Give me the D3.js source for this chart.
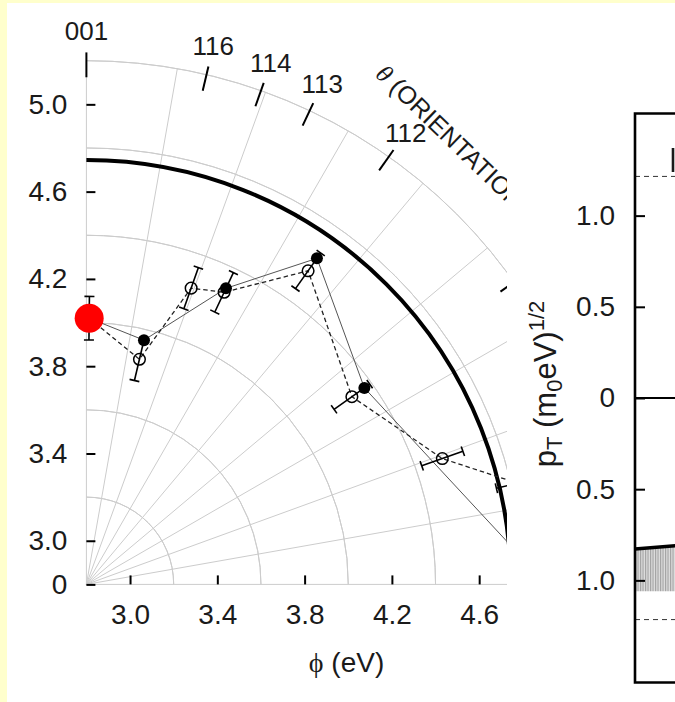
<!DOCTYPE html>
<html>
<head>
<meta charset="utf-8">
<script src="https://cdn.jsdelivr.net/npm/d3@7"></script>
<style>
  html, body { margin: 0; padding: 0; background: #fff; }
  svg { display: block; }
  text { font-family: "Liberation Sans", Arial, Helvetica, sans-serif; fill: #1a1a1a; }
</style>
</head>
<body>
<svg id="chart" width="675" height="702"></svg>
<script>
// ---- Work function φ against surface orientation θ (polar quadrant) ----
const orientationLabels = ["001", "116", "114", "113", "112", "111"];
const orientationAngles = [0, 13.26, 19.47, 25.24, 35.26, 54.74];   // degrees away from [001]

// filled markers, thin solid line
const filledAngles = [0.6, 13.26, 25.24, 35.26, 54.74, 90];
const filledPhi    = [4.02, 3.95, 4.30, 4.63, 4.36, 4.91];

// open markers with error bars, dashed line
const openAngles = [0.6, 13.26, 19.47, 25.24, 35.26, 54.74, 70.53, 76.8];
const openPhi    = [4.02, 3.86, 4.24, 4.28, 4.56, 4.29, 4.53, 4.83];
const openErr    = [0, 0.1, 0.1, 0.1, 0.1, 0.1, 0.1, 0.1];

// reference value on the [001] axis
const refAngle = 0.6, refPhi = 4.02, refErr = 0.1;
// heavy boundary arc
const boundaryPhi = 4.745;

const radialTicks = [2.8, 3.0, 3.4, 3.8, 4.2, 4.6, 5.0];
const phiTicks    = [3.0, 3.4, 3.8, 4.2, 4.6];
const gridCircles = [3.2, 3.6, 4.0, 4.4, 4.8, 5.2];
const gridAngles  = [0, 10, 20, 30, 40, 50, 60, 70, 80, 90];

// ---- Transverse momentum panel ----
const pTicks     = [1.0, 0.5, 0, -0.5, -1.0];
const pLimits    = [1.215, -1.215];
const bandX      = [0, 1];
const bandTop    = [-0.828, -0.81];
const bandBottom = [-1.06, -1.06];

const svg = d3.select("#chart");
const W = 675, H = 702;

// page background with the pale margin
svg.append("rect").attr("width", W).attr("height", H).attr("fill", "#ffffcc");
svg.append("rect").attr("x", 7).attr("y", 3).attr("width", W - 7).attr("height", H - 3).attr("fill", "#ffffff");

const defs = svg.append("defs");
defs.append("clipPath").attr("id", "polarClip")
  .append("rect").attr("x", 0).attr("y", 0).attr("width", 507).attr("height", H);

const hatch = defs.append("pattern").attr("id", "hatch")
  .attr("patternUnits", "userSpaceOnUse").attr("width", 2.5).attr("height", 6);
hatch.append("rect").attr("width", 2.5).attr("height", 6).attr("fill", "#dedede");
hatch.append("line").attr("x1", 0.6).attr("x2", 0.6).attr("y1", 0).attr("y2", 6)
  .attr("stroke", "#999").attr("stroke-width", 1);

// ---------------- polar quadrant ----------------
const ox = 86.4, oy = 584.4, R = 523.7;
const rScale = d3.scaleLinear().domain([2.8, 5.2]).range([0, R]);
const rad = d => d * Math.PI / 180;

const clipped = svg.append("g").attr("clip-path", "url(#polarClip)");
const polar = clipped.append("g").attr("transform", `translate(${ox},${oy})`);

// grid arcs
const arcGen = d3.arc();
polar.append("g").selectAll("path").data(gridCircles).join("path")
  .attr("d", d => arcGen({ innerRadius: rScale(d), outerRadius: rScale(d), startAngle: 0, endAngle: Math.PI / 2 }))
  .attr("fill", "none").attr("stroke", "#cccccc").attr("stroke-width", 1);

// grid spokes
polar.append("g").selectAll("line").data(gridAngles).join("line")
  .attr("x1", 0).attr("y1", 0)
  .attr("x2", d => d3.pointRadial(rad(d), rScale(5.2))[0])
  .attr("y2", d => d3.pointRadial(rad(d), rScale(5.2))[1])
  .attr("stroke", "#cccccc").attr("stroke-width", 1);

// heavy boundary arc
polar.append("path")
  .attr("d", arcGen({ innerRadius: rScale(boundaryPhi), outerRadius: rScale(boundaryPhi), startAngle: 0, endAngle: Math.PI / 2 }))
  .attr("fill", "none").attr("stroke", "#000").attr("stroke-width", 4);

// orientation ticks and labels on the outer rim
const rimIn = 5.124, rimOut = 5.238, rimLabel = 5.335;
polar.append("g").selectAll("line").data(orientationAngles).join("line")
  .attr("x1", d => d3.pointRadial(rad(d), rScale(rimIn))[0])
  .attr("y1", d => d3.pointRadial(rad(d), rScale(rimIn))[1])
  .attr("x2", d => d3.pointRadial(rad(d), rScale(rimOut))[0])
  .attr("y2", d => d3.pointRadial(rad(d), rScale(rimOut))[1])
  .attr("stroke", "#000").attr("stroke-width", 2);

polar.append("g").selectAll("text").data(orientationLabels).join("text")
  .attr("x", (d, i) => d3.pointRadial(rad(orientationAngles[i]), rScale(rimLabel))[0])
  .attr("y", (d, i) => d3.pointRadial(rad(orientationAngles[i]), rScale(rimLabel))[1])
  .attr("text-anchor", "middle").attr("dy", "0.35em")
  .attr("font-size", 26)
  .text(d => d);

// angular axis title, running along the rim
const tPos = d3.pointRadial(rad(29.5), rScale(5.48));
polar.append("text")
  .attr("transform", `translate(${tPos[0]},${tPos[1]}) rotate(44)`)
  .attr("font-size", 25)
  .call(t => {
    t.append("tspan").attr("font-family", "'Liberation Serif', 'DejaVu Serif', serif").attr("font-style", "italic").text("θ");
    t.append("tspan").text(" (ORIENTATION)");
  });

// series lines
const radial = d3.lineRadial();
const filledPts = filledAngles.map((a, i) => [rad(a), rScale(filledPhi[i])]);
const openPts = openAngles.map((a, i) => [rad(a), rScale(openPhi[i])]);

polar.append("path").attr("d", radial(filledPts))
  .attr("fill", "none").attr("stroke", "#555").attr("stroke-width", 1);
polar.append("path").attr("d", radial(openPts))
  .attr("fill", "none").attr("stroke", "#222").attr("stroke-width", 1.3)
  .attr("stroke-dasharray", "4.5,3");

// radial error bars with caps
function errorBar(g, angleDeg, phi, err, cap) {
  const a = rad(angleDeg);
  const p0 = d3.pointRadial(a, rScale(phi - err));
  const p1 = d3.pointRadial(a, rScale(phi + err));
  const ux = Math.cos(a), uy = Math.sin(a);   // across the spoke
  const eb = g.append("g").attr("stroke", "#000").attr("stroke-width", 1.6);
  eb.append("line").attr("x1", p0[0]).attr("y1", p0[1]).attr("x2", p1[0]).attr("y2", p1[1]);
  [p0, p1].forEach(p => eb.append("line")
    .attr("x1", p[0] - ux * cap).attr("y1", p[1] - uy * cap)
    .attr("x2", p[0] + ux * cap).attr("y2", p[1] + uy * cap));
}
const ebGroup = polar.append("g");
openAngles.forEach((a, i) => { if (openErr[i] > 0) errorBar(ebGroup, a, openPhi[i], openErr[i], 5); });

// markers
polar.append("g").selectAll("circle").data(openPts.slice(1)).join("circle")
  .attr("cx", d => d3.pointRadial(d[0], d[1])[0])
  .attr("cy", d => d3.pointRadial(d[0], d[1])[1])
  .attr("r", 5.8).attr("fill", "none").attr("stroke", "#000").attr("stroke-width", 1.5);
polar.append("g").selectAll("circle").data(filledPts.slice(1)).join("circle")
  .attr("cx", d => d3.pointRadial(d[0], d[1])[0])
  .attr("cy", d => d3.pointRadial(d[0], d[1])[1])
  .attr("r", 6).attr("fill", "#000");

// reference point
errorBar(polar, refAngle, refPhi, refErr, 5);
const refP = d3.pointRadial(rad(refAngle), rScale(refPhi));
polar.append("circle").attr("cx", refP[0]).attr("cy", refP[1]).attr("r", 14.5).attr("fill", "#ff0000");

// radial axes (left and bottom)
const yPhi = d3.scaleLinear().domain([2.8, 5.2]).range([oy, oy - R]);
const xPhi = d3.scaleLinear().domain([2.8, 5.2]).range([ox, ox + R]);

const leftAx = svg.append("g").attr("transform", `translate(${ox},0)`)
  .call(d3.axisLeft(yPhi).tickValues(radialTicks).tickSize(-9).tickPadding(19)
    .tickFormat(d => d === 2.8 ? "0" : d3.format(".1f")(d)));
const botAx = svg.append("g").attr("transform", `translate(0,${oy})`)
  .call(d3.axisBottom(xPhi).tickValues(phiTicks).tickSize(-9).tickPadding(20)
    .tickFormat(d3.format(".1f")));
[leftAx, botAx].forEach(ax => {
  ax.select(".domain").remove();
  ax.selectAll(".tick line").attr("stroke", "#000").attr("stroke-width", 2);
  ax.selectAll(".tick text").attr("font-size", 28).attr("fill", "#1a1a1a")
    .attr("font-family", "'Liberation Sans', Arial, sans-serif");
});

svg.append("text").attr("x", 346.5).attr("y", 672).attr("text-anchor", "middle").attr("font-size", 28)
  .call(t => {
    t.append("tspan").attr("font-family", "'Liberation Serif', 'DejaVu Serif', serif").text("ϕ");
    t.append("tspan").text(" (eV)");
  });

// ---------------- transverse momentum panel ----------------
const bx = 635;
const yP = d3.scaleLinear().domain([-1.56, 1.56]).range([682.5, 113.5]);
const xP = d3.scaleLinear().domain([0, 1]).range([bx, 676]);

// shaded band and its upper edge
svg.append("path")
  .attr("d", d3.area().x((d, i) => xP(bandX[i])).y0((d, i) => yP(bandBottom[i])).y1((d, i) => yP(bandTop[i]))(bandX))
  .attr("fill", "url(#hatch)");
svg.append("path")
  .attr("d", d3.line().x((d, i) => xP(bandX[i])).y((d, i) => yP(bandTop[i]))(bandX))
  .attr("fill", "none").attr("stroke", "#000").attr("stroke-width", 3.5);

// limit lines
svg.append("g").selectAll("line").data(pLimits).join("line")
  .attr("x1", bx).attr("x2", 676).attr("y1", d => yP(d)).attr("y2", d => yP(d))
  .attr("stroke", "#333").attr("stroke-width", 1).attr("stroke-dasharray", "5,4");

// zero line
svg.append("line").attr("x1", bx).attr("x2", 676).attr("y1", yP(0)).attr("y2", yP(0))
  .attr("stroke", "#000").attr("stroke-width", 2);

const pAx = svg.append("g").attr("transform", `translate(${bx},0)`)
  .call(d3.axisLeft(yP).tickValues(pTicks).tickSize(-10).tickPadding(20)
    .tickFormat(d => d === 0 ? "0" : d3.format(".1f")(Math.abs(d))));
pAx.select(".domain").remove();
pAx.selectAll(".tick line").attr("stroke", "#000").attr("stroke-width", 2);
pAx.selectAll(".tick text").attr("font-size", 28).attr("fill", "#1a1a1a")
  .attr("font-family", "'Liberation Sans', Arial, sans-serif");

// frame
svg.append("path")
  .attr("d", `M690,${yP(1.56)} H${bx} V${yP(-1.56)} H690`)
  .attr("fill", "none").attr("stroke", "#000").attr("stroke-width", 2.6);

// stem of the panel's inner label, which runs past the page edge
svg.append("line").attr("x1", 673).attr("x2", 673).attr("y1", 148).attr("y2", 172)
  .attr("stroke", "#1a1a1a").attr("stroke-width", 2.6);

// vertical axis title
svg.append("text")
  .attr("transform", `translate(556,384) rotate(-90)`)
  .attr("text-anchor", "middle").attr("font-size", 31)
  .call(t => {
    t.append("tspan").text("p");
    t.append("tspan").attr("font-size", 22).attr("dy", 6).text("T");
    t.append("tspan").attr("dy", -6).text(" (m");
    t.append("tspan").attr("font-size", 22).attr("dy", 6).text("0");
    t.append("tspan").attr("dy", -6).text("eV)");
    t.append("tspan").attr("font-size", 22).attr("dy", -12).text("1/2");
  });
</script>
</body>
</html>
